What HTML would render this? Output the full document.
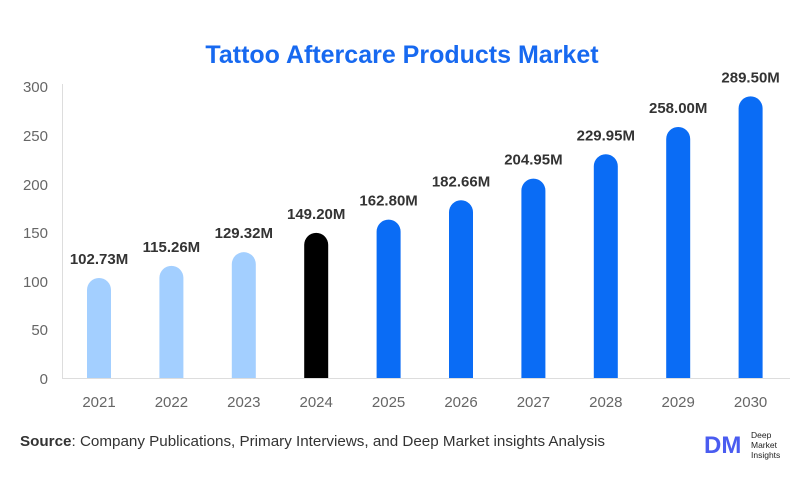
<!DOCTYPE html>
<html><head><style>body{margin:0;background:#fff}</style></head><body>
<svg width="807" height="492" xmlns="http://www.w3.org/2000/svg" font-family="Liberation Sans, sans-serif">
<rect width="807" height="492" fill="#fff"/>
<text x="402" y="63" text-anchor="middle" font-size="25" font-weight="bold" fill="#1769f0">Tattoo Aftercare Products Market</text>
<line x1="62.5" y1="84" x2="62.5" y2="379" stroke="#ddd"/>
<line x1="62" y1="378.5" x2="790" y2="378.5" stroke="#ddd"/>
<g font-size="15" fill="#666" text-anchor="end">
<text x="48" y="92">300</text><text x="48" y="141">250</text><text x="48" y="190">200</text>
<text x="48" y="238">150</text><text x="48" y="287">100</text><text x="48" y="335">50</text><text x="48" y="384">0</text>
</g>
<path d="M87 378 V290 A12 12 0 0 1 111 290 V378 Z" fill="#a3cfff"/>
<path d="M159.4 378 V277.85 A12 12 0 0 1 183.4 277.85 V378 Z" fill="#a3cfff"/>
<path d="M231.8 378 V264.17 A12 12 0 0 1 255.8 264.17 V378 Z" fill="#a3cfff"/>
<path d="M304.2 378 V244.83 A12 12 0 0 1 328.2 244.83 V378 Z" fill="#000"/>
<path d="M376.6 378 V231.6 A12 12 0 0 1 400.6 231.6 V378 Z" fill="#0a6cf5"/>
<path d="M449 378 V212.27 A12 12 0 0 1 473 212.27 V378 Z" fill="#0a6cf5"/>
<path d="M521.4 378 V190.58 A12 12 0 0 1 545.4 190.58 V378 Z" fill="#0a6cf5"/>
<path d="M593.8 378 V166.26 A12 12 0 0 1 617.8 166.26 V378 Z" fill="#0a6cf5"/>
<path d="M666.2 378 V138.97 A12 12 0 0 1 690.2 138.97 V378 Z" fill="#0a6cf5"/>
<path d="M738.6 378 V108.32 A12 12 0 0 1 762.6 108.32 V378 Z" fill="#0a6cf5"/>
<g font-size="15" fill="#666" text-anchor="middle">
<text x="99" y="407">2021</text><text x="171.4" y="407">2022</text><text x="243.8" y="407">2023</text>
<text x="316.2" y="407">2024</text><text x="388.6" y="407">2025</text><text x="461" y="407">2026</text>
<text x="533.4" y="407">2027</text><text x="605.8" y="407">2028</text><text x="678.2" y="407">2029</text>
<text x="750.6" y="407">2030</text>
</g>
<g font-size="15" font-weight="bold" fill="#333" text-anchor="middle">
<text x="99" y="264">102.73M</text><text x="171.4" y="251.85">115.26M</text><text x="243.8" y="238.17">129.32M</text>
<text x="316.2" y="218.83">149.20M</text><text x="388.6" y="205.6">162.80M</text><text x="461" y="186.27">182.66M</text>
<text x="533.4" y="164.58">204.95M</text><text x="605.8" y="140.26">229.95M</text><text x="678.2" y="112.97">258.00M</text>
<text x="750.6" y="82.32">289.50M</text>
</g>
<text x="20" y="446" font-size="15.2" fill="#333"><tspan font-weight="bold">Source</tspan>: Company Publications, Primary Interviews, and Deep Market insights Analysis</text>
<text x="704" y="453" font-size="24" font-weight="bold" fill="#4a5cf0">DM</text>
<text x="751" y="438" font-size="8.5" fill="#222">Deep</text>
<text x="751" y="448" font-size="8.5" fill="#222">Market</text>
<text x="751" y="458" font-size="8.5" fill="#222">Insights</text>
</svg>
</body></html>
